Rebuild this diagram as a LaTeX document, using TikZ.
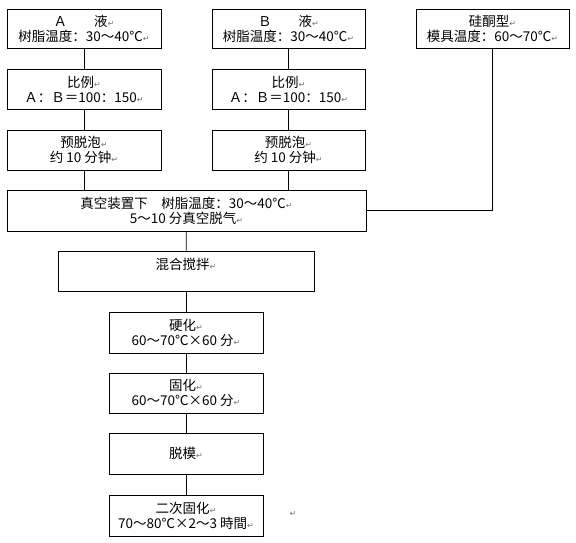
\documentclass[tikz,border=0pt]{standalone}
\usepackage{fontspec}
\setmainfont{Noto Sans CJK SC}
\newfontfamily\markfont{DejaVu Sans}
\newcommand\pmk{{\color{black!55}\markfont\fontsize{8}{8}\selectfont ↵}}

\begin{document}
\begin{tikzpicture}[x=1pt,y=-1pt,
  step box/.style={draw,line width=0.8pt,inner sep=0pt,align=center,
    font=\fontsize{13.5}{15}\selectfont},
  link/.style={line width=0.8pt}]
\useasboundingbox (0,0) rectangle (576,542);

\node[step box,minimum width=154,minimum height=39] (liqA) at (84,28.5) {Ａ　　液\pmk\\树脂温度：30～40℃\pmk};
\node[step box,minimum width=153,minimum height=39] (liqB) at (288.5,28.5) {Ｂ　　液\pmk\\树脂温度：30～40℃\pmk};
\node[step box,minimum width=153,minimum height=39] (mould) at (492.5,28.5) {硅酮型\pmk\\模具温度：60～70℃\pmk};

\node[step box,minimum width=154,minimum height=40] (ratioA) at (84,89) {比例\pmk\\Ａ：Ｂ＝100：150\pmk};
\node[step box,minimum width=153,minimum height=40] (ratioB) at (288.5,89) {比例\pmk\\Ａ：Ｂ＝100：150\pmk};

\node[step box,minimum width=154,minimum height=40] (degasA) at (84,150) {预脱泡\pmk\\约 10 分钟\pmk};
\node[step box,minimum width=153,minimum height=40] (degasB) at (288.5,150) {预脱泡\pmk\\约 10 分钟\pmk};

\node[step box,minimum width=359,minimum height=41] (vacuum) at (186.5,210.5) {真空装置下　树脂温度：30～40℃\pmk\\5～10 分真空脱气\pmk};
\node[step box,minimum width=256,minimum height=40] (mix) at (186,271) {混合搅拌\pmk\\\mbox{}};

\node[step box,minimum width=154,minimum height=41] (harden) at (186,332.5) {硬化\pmk\\60～70℃×60 分\pmk};
\node[step box,minimum width=154,minimum height=40] (cure) at (186,393) {固化\pmk\\60～70℃×60 分\pmk};
\node[step box,minimum width=154,minimum height=41] (demould) at (186,453.5) {脱模\pmk};
\node[step box,minimum width=154,minimum height=41] (postcure) at (186,515.5) {二次固化\pmk\\70～80℃×2～3 時間\pmk};
\node (endmark) at (293,514) {\pmk};

\draw[link] (liqA) -- (ratioA);
\draw[link] (ratioA) -- (degasA);
\draw[link] (liqB) -- (ratioB);
\draw[link] (ratioB) -- (degasB);
\draw[link] (degasA) -- (degasA |- vacuum.north);
\draw[link] (degasB) -- (degasB |- vacuum.north);
\draw[link] (mould) |- (vacuum);
\draw[link] (vacuum) -- (mix);
\draw[link] (mix) -- (harden);
\draw[link] (harden) -- (cure);
\draw[link] (cure) -- (demould);
\draw[link] (demould) -- (postcure);
\end{tikzpicture}
\end{document}
